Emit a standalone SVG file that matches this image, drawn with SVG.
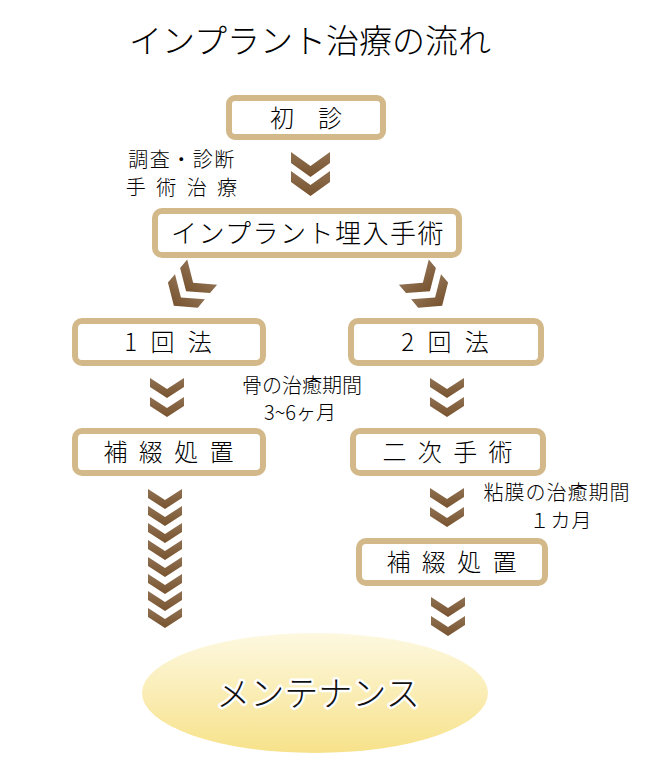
<svg xmlns="http://www.w3.org/2000/svg" width="650" height="764" viewBox="0 0 650 764">
<defs>
<linearGradient id="chev" x1="0" y1="0" x2="0" y2="1">
<stop offset="0" stop-color="#8f7152"/>
<stop offset="1" stop-color="#78532f"/>
</linearGradient>
<linearGradient id="ell" x1="0" y1="0" x2="0" y2="1">
<stop offset="0" stop-color="#fdf8e0"/>
<stop offset="1" stop-color="#f7e28a"/>
</linearGradient>
<path id="cb" d="M0,0 L19.5,14 L39,0 L39,11 L19.5,25 L0,11 Z" fill="url(#chev)"/>
<path id="cs" d="M0,0 L17,11 L34,0 L34,9 L17,20 L0,9 Z" fill="url(#chev)"/>
<g id="pairB"><use href="#cb"/><use href="#cb" y="19"/></g>
<g id="pairS"><use href="#cs"/><use href="#cs" y="19"/></g>
</defs>
<style>
text{font-family:"Noto Sans CJK JP","Noto Sans",sans-serif;fill:#000;font-weight:300}
.box{fill:#fff;stroke:#d3b98a;stroke-width:6}
.bt{font-size:24px;text-anchor:middle}
.lb{font-size:20px;text-anchor:middle}
</style>
<text x="310" y="53" style="font-size:33px;text-anchor:middle">インプラント治療の流れ</text>

<g id="n-shoshin">
<rect class="box" x="229" y="98" width="154" height="39" rx="6"/>
<text class="bt" x="306" y="127">初　診</text>
</g>
<g id="n-label1">
<text class="lb" x="182" y="167" style="letter-spacing:1.5px">調査・診断</text>
<text class="lb" x="183" y="195" style="letter-spacing:3px">手 術 治 療</text>
</g>
<g id="n-implant">
<rect class="box" x="155" y="211" width="304" height="44" rx="7"/>
<text class="bt" x="308" y="243" style="font-size:26px;letter-spacing:1.5px">インプラント埋入手術</text>
</g>
<g id="n-1kai">
<rect class="box" x="75" y="321" width="188" height="42" rx="7"/>
<text class="bt" x="170" y="351" style="letter-spacing:4px">1 回 法</text>
</g>
<g id="n-2kai">
<rect class="box" x="351" y="321" width="190" height="42" rx="7"/>
<text class="bt" x="447" y="351" style="letter-spacing:4px">2 回 法</text>
</g>
<g id="n-label2">
<text class="lb" x="302" y="393">骨の治癒期間</text>
<text class="lb" x="300" y="420">3~6ヶ月</text>
</g>
<g id="n-hotetsu1">
<rect class="box" x="75" y="431" width="188" height="42" rx="7"/>
<text class="bt" x="170" y="461" style="letter-spacing:3px">補 綴 処 置</text>
</g>
<g id="n-niji">
<rect class="box" x="353" y="431" width="190" height="42" rx="7"/>
<text class="bt" x="449" y="461" style="letter-spacing:3px">二 次 手 術</text>
</g>
<g id="n-label3">
<text class="lb" x="557" y="500" style="letter-spacing:1px">粘膜の治癒期間</text>
<text class="lb" x="561" y="528" style="letter-spacing:1px">１カ月</text>
</g>
<g id="n-hotetsu2">
<rect class="box" x="359" y="541" width="186" height="42" rx="7"/>
<text class="bt" x="453" y="571" style="letter-spacing:3px">補 綴 処 置</text>
</g>
<g id="n-maint">
<ellipse cx="315" cy="693" rx="173" ry="60" fill="url(#ell)"/>
<text x="318" y="706" style="font-size:34px;text-anchor:middle;stroke:#fff;stroke-width:5;stroke-linejoin:round;paint-order:stroke;fill:#111">メンテナンス</text>
</g>

<g id="connectors">
<use href="#pairB" x="291" y="152"/>
<use href="#pairB" transform="translate(188,289) rotate(40) translate(-19.5,-22)"/>
<use href="#pairB" transform="translate(428,289) rotate(-40) translate(-19.5,-22)"/>
<use href="#pairS" x="150" y="378"/>
<use href="#pairS" x="430" y="378"/>
<use href="#pairS" x="430" y="488"/>
<use href="#pairS" x="431" y="597"/>
<g transform="translate(148,489)">
<use href="#cs"/><use href="#cs" y="17"/><use href="#cs" y="34"/><use href="#cs" y="51"/>
<use href="#cs" y="68"/><use href="#cs" y="85"/><use href="#cs" y="102"/><use href="#cs" y="119"/>
</g>
</g>
</svg>
